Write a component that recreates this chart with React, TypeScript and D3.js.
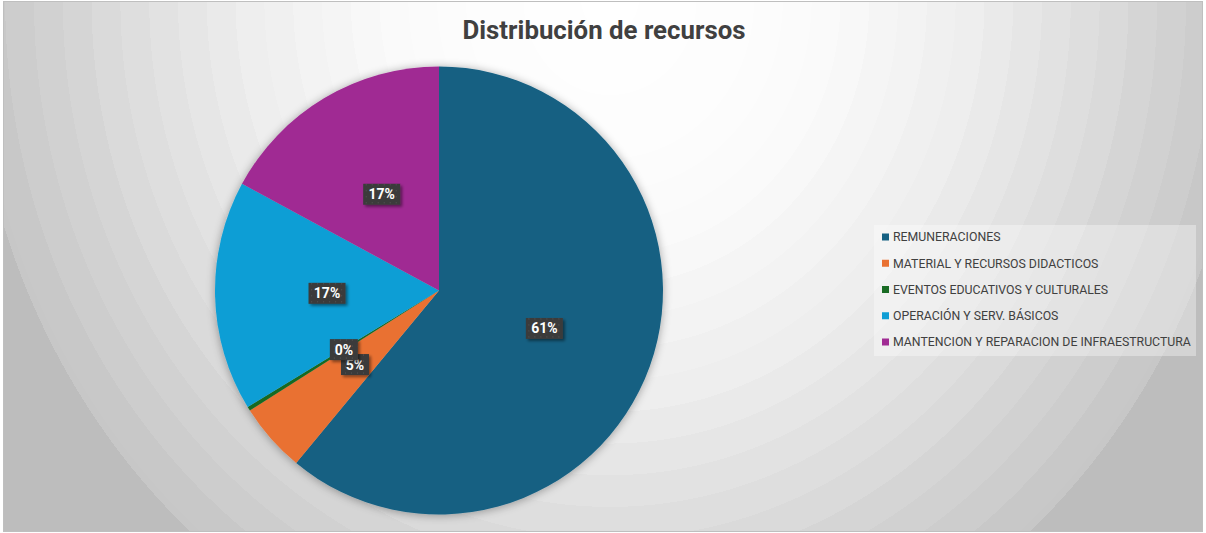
import React from 'react';
import * as d3 from 'd3';

// values (share of total, %)
const categories = [
  'REMUNERACIONES',
  'MATERIAL Y RECURSOS DIDACTICOS',
  'EVENTOS EDUCATIVOS Y CULTURALES',
  'OPERACIÓN Y SERV. BÁSICOS',
  'MANTENCION Y REPARACION DE INFRAESTRUCTURA',
];
const values = [61.0, 5.0, 0.3, 16.6, 17.1];
const colors = ['#156082', '#e97132', '#196b24', '#0f9ed5', '#a02b93'];
const title = 'Distribución de recursos';

const W = 1206;
const H = 533;

const App = () => {
  const cx = 439;
  const cy = 290.5;
  const r = 224;

  const pie = d3.pie<number>().sort(null).value(d => d);
  const arcs = pie(values);
  const arc = d3.arc<d3.PieArcDatum<number>>().innerRadius(0).outerRadius(r);
  const labelArc = d3.arc<d3.PieArcDatum<number>>().innerRadius(r / 2).outerRadius(r / 2);
  const total = d3.sum(values);
  const fmt = (v: number) => `${Math.round((v / total) * 100)}%`;

  // stepped grey bands for the background, like the banding in the original
  const shade = d3.scaleLinear<number>()
    .domain([0, 0.3, 0.55, 0.75, 0.95, 1.3])
    .range([255, 251, 237, 219, 200, 188])
    .clamp(true);
  const bands = d3.range(0, 1.3, 0.045);

  const legendY = d3.scalePoint<string>()
    .domain(categories)
    .range([237, 342]);

  return (
    <svg width={W} height={H} style={{ position: 'absolute', left: 0, top: 0 }}>
      <defs>
        <radialGradient id="bg" gradientUnits="userSpaceOnUse" cx={610} cy={0} r={640}
          gradientTransform="translate(610,0) scale(1,1.1) translate(-610,0)">
          {bands.map((t, i) => {
            const g = Math.round(shade(t));
            const c = `rgb(${g},${g},${g})`;
            return (
              <React.Fragment key={i}>
                <stop offset={Math.min(t, 1)} stopColor={c} />
                <stop offset={Math.min(t + 0.045, 1)} stopColor={c} />
              </React.Fragment>
            );
          })}
        </radialGradient>
        <filter id="pieShadow" x="-20%" y="-20%" width="140%" height="140%">
          <feGaussianBlur in="SourceAlpha" stdDeviation="5" />
          <feOffset dx="0" dy="1" />
          <feComponentTransfer><feFuncA type="linear" slope="0.35" /></feComponentTransfer>
          <feMerge><feMergeNode /><feMergeNode in="SourceGraphic" /></feMerge>
        </filter>
        <filter id="boxShadow" x="-30%" y="-30%" width="170%" height="170%">
          <feGaussianBlur in="SourceAlpha" stdDeviation="1.5" />
          <feOffset dx="2" dy="2" />
          <feComponentTransfer><feFuncA type="linear" slope="0.45" /></feComponentTransfer>
          <feMerge><feMergeNode /><feMergeNode in="SourceGraphic" /></feMerge>
        </filter>
        <pattern id="dots" width="6" height="6" patternUnits="userSpaceOnUse">
          <rect width="6" height="6" fill="#3b3b3b" />
          <rect x="2" y="2" width="1" height="1" fill="#555" />
        </pattern>
      </defs>

      <rect x={0} y={0} width={W} height={H} fill="#fff" />
      <rect x={3.5} y={1.5} width={W - 7} height={H - 3} fill="url(#bg)" stroke="#bfbfbf" />

      <text x={604} y={39} textAnchor="middle" fontFamily="Roboto, sans-serif" fontWeight={700}
        fontSize={25.8} fill="#404040">{title}</text>

      <g transform={`translate(${cx},${cy})`} filter="url(#pieShadow)">
        {arcs.map((a, i) => (
          <path key={i} d={arc(a) || ''} fill={colors[i]} />
        ))}
      </g>

      <g transform={`translate(${cx},${cy})`}>
        {arcs.map((a, i) => {
          const [lx, ly] = labelArc.centroid(a);
          const txt = fmt(a.data);
          const w = txt.length * 9 + 10;
          const h = 21;
          return (
            <g key={i} transform={`translate(${lx},${ly})`}>
              <rect x={-w / 2} y={-h / 2} width={w} height={h} fill="url(#dots)" filter="url(#boxShadow)" />
              <text textAnchor="middle" dy="0.36em" fontFamily="Roboto, sans-serif" fontWeight={700}
                fontSize={14} fill="#fff">{txt}</text>
            </g>
          );
        })}
      </g>

      <rect x={874} y={225} width={322} height={131} fill="#fff" fillOpacity={0.35} />
      {categories.map((c, i) => (
        <g key={c} transform={`translate(882,${legendY(c)})`}>
          <rect x={0} y={-3.5} width={7} height={7} fill={colors[i]} />
          <text x={11} dy="0.35em" fontFamily="Roboto, sans-serif" fontSize={12.3} fill="#404040">{c}</text>
        </g>
      ))}
    </svg>
  );
};

export default App;
